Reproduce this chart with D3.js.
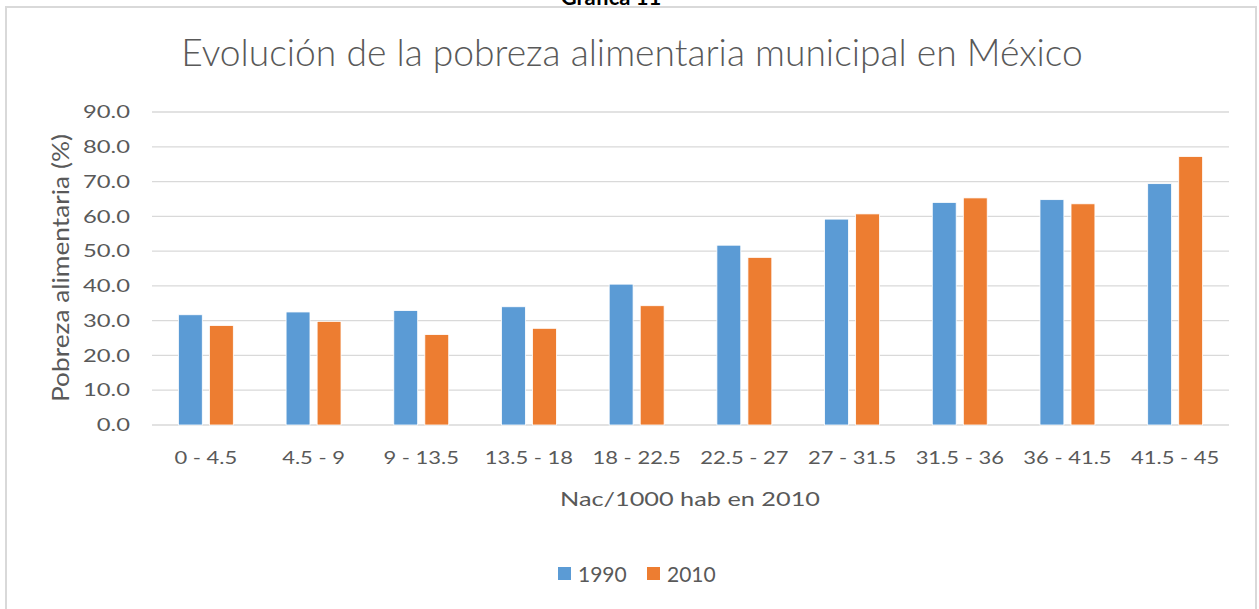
<!DOCTYPE html>
<html>
<head>
<meta charset="utf-8">
<script src="https://cdn.jsdelivr.net/npm/d3@7"></script>
<style>
  body { margin: 0; background: #fff; }
  text { font-family: Lato, "Open Sans", sans-serif; fill: #595959; }
</style>
</head>
<body>
<svg id="chart" width="1259" height="609"></svg>
<script>
var categories = ['0 - 4.5', '4.5 - 9', '9 - 13.5', '13.5 - 18', '18 - 22.5',
                  '22.5 - 27', '27 - 31.5', '31.5 - 36', '36 - 41.5', '41.5 - 45'];
var series = ['1990', '2010'];
var values1990 = [31.7, 32.5, 32.9, 34.0, 40.5, 51.7, 59.2, 64.0, 64.8, 69.4];
var values2010 = [28.6, 29.8, 26.0, 27.8, 34.3, 48.2, 60.7, 65.3, 63.6, 77.2];
var yTicks = [0, 10, 20, 30, 40, 50, 60, 70, 80, 90];
var colors = ['#5B9BD5', '#ED7D31'];

var svg = d3.select('#chart');

// the source picture is a bit wider than tall, so text is stretched sideways
function stretch(sel, k) {
    sel.each(function() {
        var w = this.getComputedTextLength();
        d3.select(this).attr('textLength', w * k).attr('lengthAdjust', 'spacingAndGlyphs');
    });
}

// outer frame of the embedded Excel chart
svg.append('rect')
    .attr('x', 6).attr('y', 7).attr('width', 1250).attr('height', 620)
    .attr('fill', 'none').attr('stroke', '#d9d9d9').attr('stroke-width', 2);

// caption above the frame, mostly cut off in the source
svg.append('text')
    .attr('x', 611).attr('y', 5)
    .attr('text-anchor', 'middle')
    .style('font-size', '22px').style('font-weight', 'bold').style('fill', '#000')
    .text('Gráfica 11');

var x0 = d3.scaleBand().domain(categories).range([152, 1229])
    .paddingInner(0.49).paddingOuter(0.245);
var x1 = d3.scaleBand().domain(series).range([0, x0.bandwidth()]).paddingInner(0.23);
var y = d3.scaleLinear().domain([0, 90]).range([425, 112]);

// gridlines
svg.append('g').selectAll('line').data(yTicks).enter().append('line')
    .attr('x1', 152).attr('x2', 1229)
    .attr('y1', function(d) { return y(d); }).attr('y2', function(d) { return y(d); })
    .attr('stroke', '#d9d9d9').attr('stroke-width', 1.3);

// y axis labels
var yAxis = svg.append('g').attr('transform', 'translate(152,0)')
    .call(d3.axisLeft(y).tickValues(yTicks).tickSize(0).tickPadding(22)
        .tickFormat(d3.format('.1f')));
yAxis.select('.domain').remove();
yAxis.selectAll('text').style('font-size', '18px').style('fill', '#595959')
    .style('font-family', 'Lato, sans-serif');
stretch(yAxis.selectAll('text'), 1.32);

// x axis labels
var xAxis = svg.append('g').attr('transform', 'translate(0,425)')
    .call(d3.axisBottom(x0).tickSize(0).tickPadding(26));
xAxis.select('.domain').remove();
xAxis.selectAll('text').style('font-size', '18px').style('fill', '#595959')
    .style('font-family', 'Lato, sans-serif');
stretch(xAxis.selectAll('text'), 1.22);

// bars
var rows = categories.map(function(c, i) {
    return { cat: c, vals: [values1990[i], values2010[i]] };
});
var groups = svg.append('g').selectAll('g').data(rows).enter().append('g')
    .attr('transform', function(d) { return 'translate(' + x0(d.cat) + ',0)'; });
groups.selectAll('rect')
    .data(function(d) { return d.vals.map(function(v, j) { return { s: series[j], v: v, c: colors[j] }; }); })
    .enter().append('rect')
    .attr('x', function(d) { return x1(d.s); })
    .attr('y', function(d) { return y(d.v); })
    .attr('width', x1.bandwidth())
    .attr('height', function(d) { return y(0) - y(d.v); })
    .attr('fill', function(d) { return d.c; })
    .attr('stroke', '#fff').attr('stroke-width', 0.8);

// title, fitted to the reference width
var title = svg.append('text')
    .attr('x', 632).attr('y', 66).attr('text-anchor', 'middle')
    .style('font-size', '31px').style('font-weight', 300)
    .text('Evolución de la pobreza alimentaria municipal en México');
var tw = title.node().getComputedTextLength();
title.style('font-size', (31 * 902 / tw) + 'px');

// axis titles
svg.append('text')
    .attr('transform', 'translate(69,268) rotate(-90)')
    .attr('text-anchor', 'middle').style('font-size', '23px')
    .attr('textLength', 268).attr('lengthAdjust', 'spacingAndGlyphs')
    .text('Pobreza alimentaria (%)');
svg.append('text')
    .attr('x', 690).attr('y', 506).attr('text-anchor', 'middle')
    .style('font-size', '20px')
    .attr('textLength', 260).attr('lengthAdjust', 'spacingAndGlyphs')
    .text('Nac/1000 hab en 2010');

// legend
var legend = svg.append('g').selectAll('g').data(series).enter().append('g')
    .attr('transform', function(d, i) { return 'translate(' + (558 + i * 89) + ',567)'; });
legend.append('rect').attr('width', 13).attr('height', 13)
    .attr('fill', function(d, i) { return colors[i]; });
legend.append('text').attr('x', 20).attr('y', 15)
    .style('font-size', '21px').text(function(d) { return d; });
</script>
</body>
</html>
